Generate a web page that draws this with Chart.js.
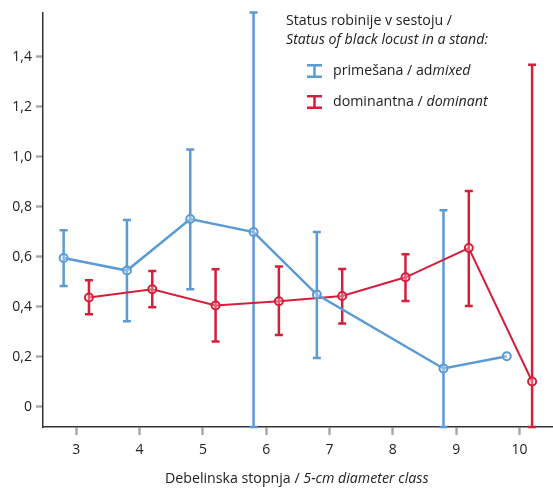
<!DOCTYPE html>
<html>
<head>
<meta charset="utf-8">
<script src="https://cdn.jsdelivr.net/npm/chart.js@4.4.1/dist/chart.umd.min.js"></script>
<style>
  html, body { margin: 0; padding: 0; background: #fff; }
  #wrap { position: relative; width: 553px; height: 488px; font-family: "Open Sans", sans-serif; color: #222; }
  #chart { position: absolute; left: 0; top: 0; }
  .txt { position: absolute; white-space: nowrap; font-size: 14.2px; line-height: 18px; }
  .legend-row { position: absolute; left: 306px; font-size: 14.2px; white-space: nowrap; }
  .legend-row svg { vertical-align: middle; margin-right: 10px; }
</style>
</head>
<body>
<div id="wrap">
  <canvas id="chart" width="553" height="488"></canvas>
  <div class="txt" style="left:286px; top:11px;">Status robinije v sestoju /</div>
  <div class="txt" style="left:286px; top:30px;"><i>Status of black locust in a stand:</i></div>
  <div class="legend-row" style="top:60px;">
    <svg width="17" height="14"><path d="M1 1.2H16M8.5 1.2V12.8M1 12.8H16" stroke="#5b9bd5" stroke-width="2.5" fill="none"/></svg>primešana / ad<i>mixed</i>
  </div>
  <div class="legend-row" style="top:91px;">
    <svg width="17" height="14"><path d="M1 1.2H16M8.5 1.2V12.8M1 12.8H16" stroke="#d41f3b" stroke-width="2.5" fill="none"/></svg>dominantna / <i>dominant</i>
  </div>
  <div class="txt" style="left:165px; top:469px;">Debelinska stopnja / <i>5-cm diameter class</i></div>
</div>
<script>
// diameter classes (x axis) and tick labels
const diameterClass = [3, 4, 5, 6, 7, 8, 9, 10];
const yTicks = [0, 0.2, 0.4, 0.6, 0.8, 1.0, 1.2, 1.4];

// admixed black locust (blue), mean and error bar ends
const admixedMean = [0.595, 0.545, 0.751, 0.699, 0.449, null, 0.153, 0.202];
const admixedLow  = [0.483, 0.342, 0.470, -0.2, 0.195, null, -0.2, null];
const admixedHigh = [0.706, 0.747, 1.029, 1.7, 0.699, null, 0.786, null];

// dominant black locust (red)
const dominantMean = [0.437, 0.470, 0.405, 0.422, 0.443, 0.518, 0.635, 0.101];
const dominantLow  = [0.370, 0.398, 0.261, 0.287, 0.333, 0.423, 0.403, -0.2];
const dominantHigh = [0.506, 0.543, 0.550, 0.561, 0.551, 0.610, 0.863, 1.369];

const BLUE = '#5b9bd5';
const RED = '#d41f3b';

function toPoints(mean, shift) {
  const pts = [];
  diameterClass.forEach((c, i) => {
    if (mean[i] !== null) pts.push({ x: c + shift, y: mean[i] });
  });
  return pts;
}

// draws vertical error bars with caps, clamped to the plot area
const errorBars = {
  id: 'errorBars',
  beforeDatasetsDraw(chart) {
    const ctx = chart.ctx;
    const xs = chart.scales.x, ys = chart.scales.y;
    const sets = [
      { low: admixedLow, high: admixedHigh, shift: -0.2, color: BLUE },
      { low: dominantLow, high: dominantHigh, shift: 0.2, color: RED }
    ];
    ctx.save();
    sets.forEach((s) => {
      ctx.strokeStyle = s.color;
      ctx.lineWidth = 2.5;
      diameterClass.forEach((c, i) => {
        if (s.low[i] === null) return;
        const lo = Math.max(s.low[i], ys.min);
        const hi = Math.min(s.high[i], ys.max);
        const px = xs.getPixelForValue(c + s.shift);
        const y1 = ys.getPixelForValue(lo);
        const y2 = ys.getPixelForValue(hi);
        ctx.beginPath();
        ctx.moveTo(px, y1); ctx.lineTo(px, y2);
        ctx.moveTo(px - 4, y1); ctx.lineTo(px + 4, y1);
        ctx.moveTo(px - 4, y2); ctx.lineTo(px + 4, y2);
        ctx.stroke();
      });
    });
    ctx.restore();
  }
};

new Chart(document.getElementById('chart'), {
  type: 'line',
  data: {
    datasets: [
      {
        label: 'primešana / admixed',
        data: toPoints(admixedMean, -0.2),
        borderColor: BLUE,
        borderWidth: 2.5,
        pointRadius: 4,
        pointBorderWidth: 2,
        pointBackgroundColor: 'rgba(255,255,255,0.3)',
        pointBorderColor: BLUE,
        tension: 0
      },
      {
        label: 'dominantna / dominant',
        data: toPoints(dominantMean, 0.2),
        borderColor: RED,
        borderWidth: 2,
        pointRadius: 4,
        pointBorderWidth: 2,
        pointBackgroundColor: 'rgba(255,255,255,0.3)',
        pointBorderColor: RED,
        tension: 0
      }
    ]
  },
  options: {
    responsive: false,
    animation: false,
    layout: { autoPadding: false, padding: { top: 12, right: 0, left: 0, bottom: 0 } },
    plugins: { legend: { display: false }, tooltip: { enabled: false } },
    scales: {
      x: {
        type: 'linear',
        min: 2.474,
        max: 10.53,
        afterBuildTicks: (axis) => { axis.ticks = diameterClass.map((v) => ({ value: v })); },
        afterFit: (axis) => { axis.height = 61; },
        border: { color: '#333', width: 1.5 },
        grid: { drawOnChartArea: false, tickLength: 8, tickColor: '#aaa', tickWidth: 2.5 },
        ticks: { color: '#222', font: { family: 'Open Sans', size: 14 }, padding: 7 }
      },
      y: {
        min: -0.081,
        max: 1.578,
        afterBuildTicks: (axis) => { axis.ticks = yTicks.map((v) => ({ value: v })); },
        afterFit: (axis) => { axis.width = 43; },
        border: { color: '#333', width: 1.5 },
        grid: { drawOnChartArea: false, tickLength: 7, tickColor: '#aaa', tickWidth: 2.5 },
        ticks: {
          color: '#222',
          font: { family: 'Open Sans', size: 14 },
          padding: 4,
          callback: (v) => (v === 0 ? '0' : v.toFixed(1).replace('.', ','))
        }
      }
    }
  },
  plugins: [errorBars]
});
</script>
</body>
</html>
